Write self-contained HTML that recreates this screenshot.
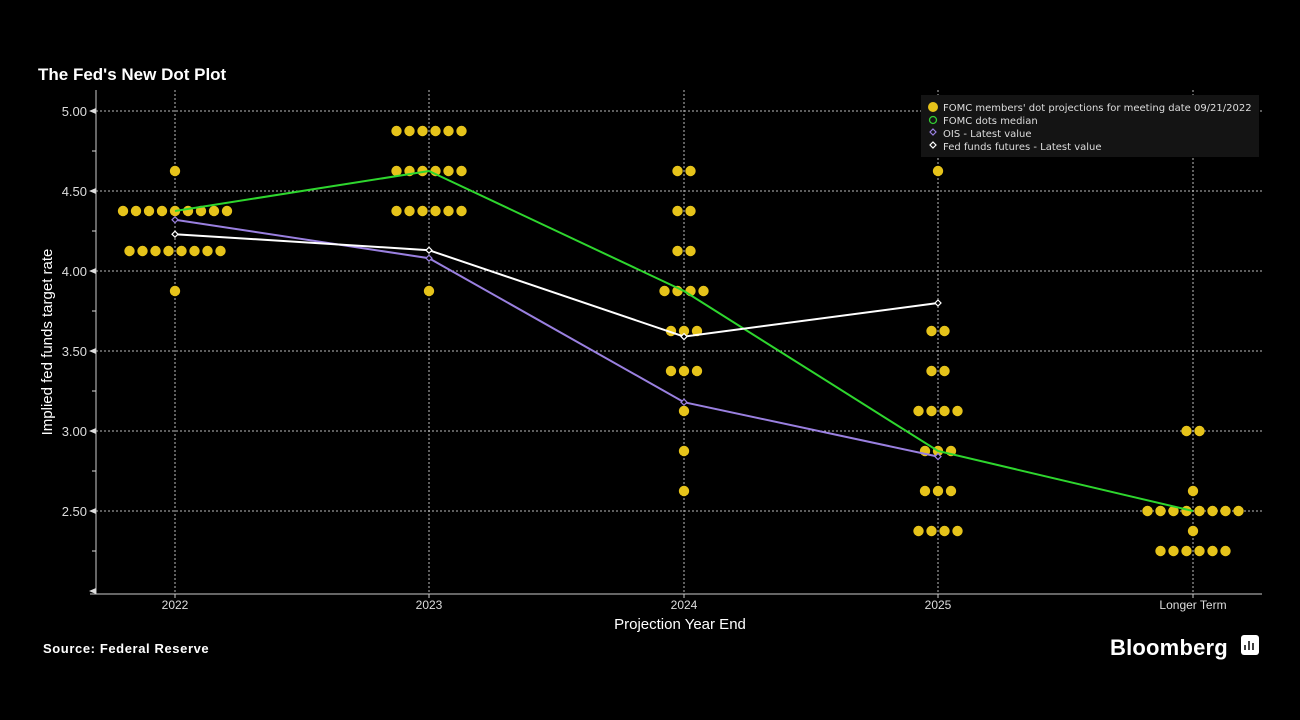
<!DOCTYPE html>
<html><head><meta charset="utf-8"><style>
body{margin:0;background:#000;width:1300px;height:720px;overflow:hidden;font-family:"Liberation Sans",sans-serif}
</style></head><body>
<svg id="s" width="1300" height="720" xmlns="http://www.w3.org/2000/svg" style="position:absolute;left:0;top:0">
<text x="38" y="80" fill="#fff" font-size="17" font-weight="bold" font-family="Liberation Sans">The Fed's New Dot Plot</text>
<text x="43" y="653" fill="#fff" font-size="13" font-weight="bold" font-family="Liberation Sans" letter-spacing="0.6">Source: Federal Reserve</text>
<text x="1110" y="655" fill="#fff" font-size="22" font-weight="bold" font-family="Liberation Sans" letter-spacing="0.2">Bloomberg</text>
<rect x="1241" y="635" width="18" height="20" rx="3" fill="#fff"/>
<g stroke="#000" stroke-width="1.5"><line x1="1245" y1="650" x2="1245" y2="645"/><line x1="1249" y1="650" x2="1249" y2="641"/><line x1="1253" y1="650" x2="1253" y2="643"/></g>
<text transform="translate(52,342) rotate(-90)" text-anchor="middle" fill="#fff" font-size="15" font-family="Liberation Sans">Implied fed funds target rate</text>
<text x="680" y="629" text-anchor="middle" fill="#fff" font-size="15" font-family="Liberation Sans">Projection Year End</text>
<g id="g"></g>
<rect x="921" y="95" width="338" height="62" fill="#141414"/>
<circle cx="933" cy="107" r="5" fill="#e6c31a"/>
<circle cx="933" cy="120" r="3.5" fill="none" stroke="#3c3" stroke-width="1.3"/>
<path d="M933 129l3 3-3 3-3-3z" fill="none" stroke="#9a80e0" stroke-width="1.2"/>
<path d="M933 142l3 3-3 3-3-3z" fill="none" stroke="#fff" stroke-width="1.2"/>
<g fill="#ddd" font-size="10" font-family="DejaVu Sans">
<text x="943" y="111">FOMC members' dot projections for meeting date 09/21/2022</text>
<text x="943" y="124">FOMC dots median</text>
<text x="943" y="137">OIS - Latest value</text>
<text x="943" y="150">Fed funds futures - Latest value</text></g>
</svg>
<script>
const g=document.getElementById('g');let h='';
const Y=v=>111+(5-v)*160;
const X=[175,429,684,938,1193];
for(let v=2.5;v<=5;v+=0.5){h+=`<line x1="96" x2="1262" y1="${Y(v)}" y2="${Y(v)}" stroke="#bbb" stroke-width="1" stroke-dasharray="2,2"/>`;}
X.forEach(x=>h+=`<line x1="${x}" x2="${x}" y1="90" y2="592" stroke="#bbb" stroke-width="1" stroke-dasharray="2,2"/>`);
h+=`<line x1="96" x2="96" y1="90" y2="594" stroke="#ccc"/><line x1="90" x2="1262" y1="594" y2="594" stroke="#ccc"/>`;
for(let v=2;v<=5.001;v+=0.25){const y=Y(v);if(Math.round(v*4)%2==0){h+=`<path d="M96 ${y-3}L89 ${y}L96 ${y+3}z" fill="#ddd"/>`;if(v>2.1)h+=`<text x="87" y="${y+5}" text-anchor="end" fill="#ddd" font-size="13" font-family="Liberation Sans">${v.toFixed(2)}</text>`;}else h+=`<line x1="92" x2="96" y1="${y}" y2="${y}" stroke="#ddd"/>`;}
['2022','2023','2024','2025','Longer Term'].forEach((t,i)=>{h+=`<line x1="${X[i]}" x2="${X[i]}" y1="594" y2="598" stroke="#ccc"/><text x="${X[i]}" y="609" text-anchor="middle" fill="#ddd" font-size="12" font-family="Liberation Sans">${t}</text>`;});
const D=[[[4.625,1],[4.375,9],[4.125,8],[3.875,1]],[[4.875,6],[4.625,6],[4.375,6],[3.875,1]],
[[4.625,2],[4.375,2],[4.125,2],[3.875,4],[3.625,3],[3.375,3],[3.125,1],[2.875,1],[2.625,1]],
[[4.625,1],[3.625,2],[3.375,2],[3.125,4],[2.875,3],[2.625,3],[2.375,4]],
[[3,2],[2.625,1],[2.5,8],[2.375,1],[2.25,6]]];
D.forEach((c,i)=>c.forEach(([v,n])=>{for(let k=0;k<n;k++){const x=X[i]+(k-(n-1)/2)*13;h+=`<circle cx="${x}" cy="${Y(v)}" r="5.2" fill="#e6c31a"/>`;}}));
const line=(vals,col,mk)=>{h+=`<polyline fill="none" stroke="${col}" stroke-width="2" points="${vals.map((v,i)=>X[i]+','+Y(v)).join(' ')}"/>`;if(mk)vals.forEach((v,i)=>h+=`<path d="M${X[i]} ${Y(v)-3}l3 3-3 3-3-3z" fill="#000" stroke="${col}" stroke-width="1.2"/>`);};
line([4.375,4.625,3.875,2.875,2.5],'#2ed62e',false);
line([4.32,4.08,3.18,2.84],'#9a80e0',true);
line([4.23,4.13,3.59,3.80],'#fff',true);
g.innerHTML=h;
</script>
</body></html>
